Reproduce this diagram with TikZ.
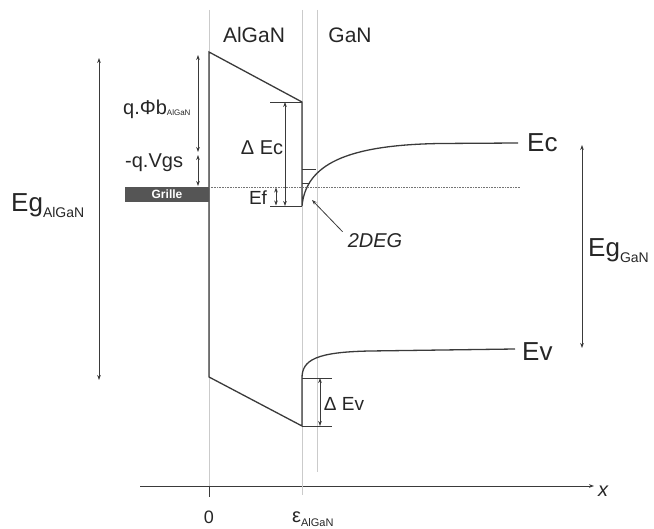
\documentclass[tikz,border=0pt]{standalone}
\usepackage{fontspec}
\setmainfont{Liberation Sans}
\usetikzlibrary{arrows.meta}
\definecolor{trait}{HTML}{3A3A3A}
\definecolor{repere}{HTML}{CBCBCB}
\definecolor{grillefond}{HTML}{555555}
\newcommand{\taille}[1]{\fontsize{#1}{#1}\selectfont}
\newcommand{\indice}[3]{\raisebox{-#1}{\taille{#2}#3}}
\tikzset{
  every picture/.style={>={Stealth[length=5pt,width=3.6pt]}},
  bande/.style={draw=trait, line width=1.3pt},
  guide/.style={draw=repere, line width=0.8pt},
  cote/.style={<->, draw=trait, line width=0.7pt},
  trait fin/.style={draw=trait, line width=0.6pt},
  etiq/.style={inner sep=0pt, text=black!85, font=\taille{20}},
  grand/.style={inner sep=0pt, text=black!85, font=\taille{26}},
}

\begin{document}
\begin{tikzpicture}[x=1pt, y=-1pt,
  grillebox/.style={fill=grillefond, minimum width=84pt, minimum height=15pt, inner sep=0pt, text=white, font=\taille{12}\bfseries}]
  \useasboundingbox (0,0) rectangle (654,529);
  % reperes verticaux
  \foreach \xx/\yy in {209/486, 302/495, 317/472} \draw[guide] (\xx,10) -- (\xx,\yy);
  % points de la bande
  \coordinate (ec0) at (209,52);
  \coordinate (ec1) at (302,102);
  \coordinate (ec2) at (302,206);
  \coordinate (ecf) at (518,143);
  \coordinate (ev0) at (209,377);
  \coordinate (ev1) at (302,426);
  \coordinate (ev2) at (302,378);
  \coordinate (evf) at (515,349);
  \draw[bande] (ecf) -- (440,143.5) .. controls (345,145) and (306,165) .. (ec2) -- (ec1) -- (ec0) -- (ev0) -- (ev1) -- (ev2) .. controls (302,360) and (316,352) .. (370,351) -- (evf);
  % niveau de Fermi et grille
  \coordinate (ef0) at (209,187);
  \coordinate (ef1) at (520,187);
  \draw[repere!40!trait, densely dotted, line width=0.6pt] (ef0) -- (ef1);
  \node[grillebox] (grille) at (167,194.5) {Grille};
  % 2DEG
  \draw[trait fin] (302,169) -- (316,169);
  \draw[trait fin] (302,183) -- (309.5,183);
  % axe
  \coordinate (ax0) at (140,486);
  \coordinate (ax1) at (594,486);
  \coordinate (t0) at (209,497);
  \draw[->, draw=trait, line width=0.9pt] (ax0) -- (ax1);
  \draw[trait fin, line width=0.9pt] (209,486) -- (t0);
  \draw[guide] (302,486) -- (302,495);
  % cotes
  \draw[cote] (198,55) -- (198,152);
  \draw[cote] (198,155) -- (198,186);
  \draw[cote] (99,58) -- (99,380);
  \draw[trait fin] (270,102) -- (ec1);
  \draw[trait fin] (270,206) -- (ec2);
  \draw[cote] (285,102) -- (285,206);
  \draw[cote] (276,187.5) -- (276,205.5);
  \draw[trait fin] (ev2) -- (332,378);
  \draw[trait fin] (ev1) -- (332,426);
  \draw[cote] (320,378) -- (320,426);
  \draw[cote] (582,145) -- (582,348);
  % etiquettes
  \node[etiq, font=\taille{21}] (alganlbl) at (254,35) {AlGaN};
  \node[etiq, font=\taille{21}] (ganlbl) at (350,35) {GaN};
  \node[etiq, anchor=base west] (phib) at (123,115) {q.Φb\indice{1pt}{8}{AlGaN}};
  \node[etiq, anchor=base west] (vgs) at (125,168) {-q.Vgs};
  \node[etiq] (dec) at (262,148) {Δ Ec};
  \node[etiq, font=\taille{19}] (eflbl) at (258,198) {Ef};
  \node[etiq, font=\taille{20}\itshape] (deg) at (375,241) {2DEG};
  \draw[->, draw=trait, line width=0.8pt] (deg.north west) ++(-5,-2) -- (312,200);
  \node[etiq, font=\taille{19}] (dev) at (344,404) {Δ Ev};
  \node[grand, anchor=west] (eclbl) at (527,143) {Ec};
  \node[grand, anchor=west] (evlbl) at (522,352) {Ev};
  \node[grand, anchor=base west] (egal) at (11,212) {Eg\indice{6pt}{14}{AlGaN}};
  \node[grand, anchor=base west] (eggan) at (588,257) {Eg\indice{6pt}{14}{GaN}};
  \node[etiq, font=\taille{18}] (zero) at (209,517) {0};
  \node[etiq, anchor=base west] (eps) at (292,522) {ε\indice{4pt}{11}{AlGaN}};
  \node[etiq, font=\taille{20}\itshape] (xlbl) at (603,491) {x};
\end{tikzpicture}
\end{document}
